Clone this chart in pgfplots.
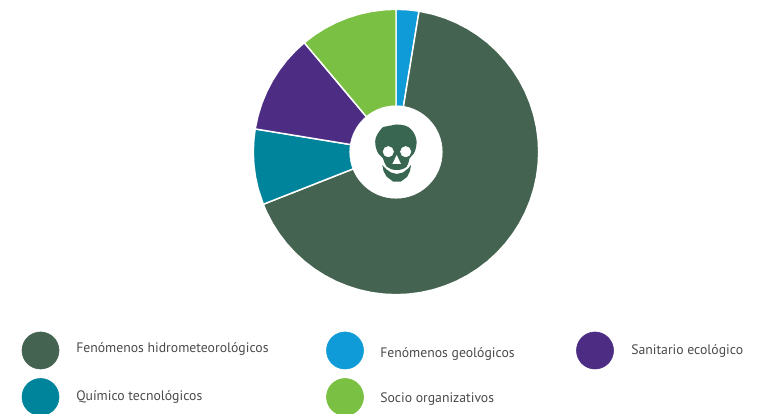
\documentclass[border=0pt]{standalone}
\usepackage{fontspec}
\setmainfont{PT Sans}
\usepackage{pgfplots}
\pgfplotsset{compat=1.18}
\definecolor{cHidro}{HTML}{456351}
\definecolor{cGeo}{HTML}{0E9BD7}
\definecolor{cQuim}{HTML}{00849C}
\definecolor{cSan}{HTML}{4D2C84}
\definecolor{cSoc}{HTML}{7AC143}
\definecolor{cSkull}{HTML}{386650}
\definecolor{cText}{HTML}{4A4A4A}
\newcommand{\leg}[1]{\fontsize{10.3pt}{12pt}\selectfont #1}
\begin{document}
\begin{tikzpicture}
\path[use as bounding box] (0,0) rectangle (568.5pt,310.5pt);
\begin{axis}[
  at={(0,0)}, anchor=south west,
  scale only axis, width=568.5pt, height=310.5pt,
  xmin=-396, xmax=362, ymin=-262, ymax=152,
  hide axis, clip mode=global, clip=true, clip marker paths=true,
]
% wedges: polar angle, radius (pixels)
\addplot[fill=cGeo,draw=white,line width=1.1pt,data cs=polar] coordinates {(0,0) (90,142.7) (85,142.7) (80.7,142.7)} -- cycle;
\addplot[fill=cHidro,draw=white,line width=1.1pt,data cs=polar] coordinates {(0,0) (80.7,142.7) (75,142.7) (70,142.7) (65,142.7) (60,142.7) (55,142.7) (50,142.7) (45,142.7) (40,142.7) (35,142.7) (30,142.7) (25,142.7) (20,142.7) (15,142.7) (10,142.7) (5,142.7) (0,142.7) (-5,142.7) (-10,142.7) (-15,142.7) (-20,142.7) (-25,142.7) (-30,142.7) (-35,142.7) (-40,142.7) (-45,142.7) (-50,142.7) (-55,142.7) (-60,142.7) (-65,142.7) (-70,142.7) (-75,142.7) (-80,142.7) (-85,142.7) (-90,142.7) (-95,142.7) (-100,142.7) (-105,142.7) (-110,142.7) (-115,142.7) (-120,142.7) (-125,142.7) (-130,142.7) (-135,142.7) (-140,142.7) (-145,142.7) (-150,142.7) (-155,142.7) (-158.5,142.7)} -- cycle;
\addplot[fill=cQuim,draw=white,line width=1.1pt,data cs=polar] coordinates {(0,0) (-158.5,142.7) (-165,142.7) (-170,142.7) (-175,142.7) (-180,142.7) (-185,142.7) (-189.3,142.7)} -- cycle;
\addplot[fill=cSan,draw=white,line width=1.1pt,data cs=polar] coordinates {(0,0) (-189.3,142.7) (-195,142.7) (-200,142.7) (-205,142.7) (-210,142.7) (-215,142.7) (-220,142.7) (-225,142.7) (-230,142.7)} -- cycle;
\addplot[fill=cSoc,draw=white,line width=1.1pt,data cs=polar] coordinates {(0,0) (-230,142.7) (-235,142.7) (-240,142.7) (-245,142.7) (-250,142.7) (-255,142.7) (-260,142.7) (-265,142.7) (-270,142.7)} -- cycle;
% hole
\addplot[only marks,mark=*,mark size=34.7pt,mark options={draw=white,fill=white}] coordinates {(0,0)};
% skull
\addplot[fill=cSkull,draw=none,smooth,tension=0.7] coordinates {(0,27.5) (12.3,25) (20,14) (19,1) (13.5,-6.5) (10.7,-14.7) (0.7,-18) (-9.3,-14.7) (-13,-6.5) (-19,1) (-20.3,14) (-13,25)} -- cycle;
\addplot[fill=cSkull,draw=none] coordinates {(-13.7,-13) (-12.5,-19) (-9.5,-24.5) (-2.7,-29.7) (4.7,-29.7) (11,-25) (14,-19) (15,-13) (12.3,-16.3) (7,-20.5) (0.7,-22) (-5,-20.5) (-10,-17)} -- cycle;
\addplot[only marks,mark=*,mark size=3.9pt,mark options={draw=white,fill=white}] coordinates {(-7.7,0.3) (9.7,0.3)};
\addplot[fill=white,draw=none] coordinates {(0.7,-3) (-3.7,-12) (5,-12)} -- cycle;
% legend swatches
\addplot[only marks,mark=*,mark size=13.9pt,mark options={draw=cHidro,fill=cHidro}] coordinates {(-355.5,-198.5)};
\addplot[only marks,mark=*,mark size=13.9pt,mark options={draw=cGeo,fill=cGeo}] coordinates {(-51,-198.5)};
\addplot[only marks,mark=*,mark size=13.9pt,mark options={draw=cSan,fill=cSan}] coordinates {(199,-198.5)};
\addplot[only marks,mark=*,mark size=13.9pt,mark options={draw=cQuim,fill=cQuim}] coordinates {(-355.5,-245)};
\addplot[only marks,mark=*,mark size=13.9pt,mark options={draw=cSoc,fill=cSoc}] coordinates {(-51,-245)};
% legend labels
\node[anchor=west,inner sep=0pt,text=cText] at (axis cs:-320,-197.5) {\leg{Fenómenos hidrometeorológicos}};
\node[anchor=west,inner sep=0pt,text=cText] at (axis cs:-16,-202.5) {\leg{Fenómenos geológicos}};
\node[anchor=west,inner sep=0pt,text=cText] at (axis cs:235,-199.5) {\leg{Sanitario ecológico}};
\node[anchor=west,inner sep=0pt,text=cText] at (axis cs:-320,-245.5) {\leg{Químico tecnológicos}};
\node[anchor=west,inner sep=0pt,text=cText] at (axis cs:-16,-247) {\leg{Socio organizativos}};
\end{axis}
\end{tikzpicture}
\end{document}
